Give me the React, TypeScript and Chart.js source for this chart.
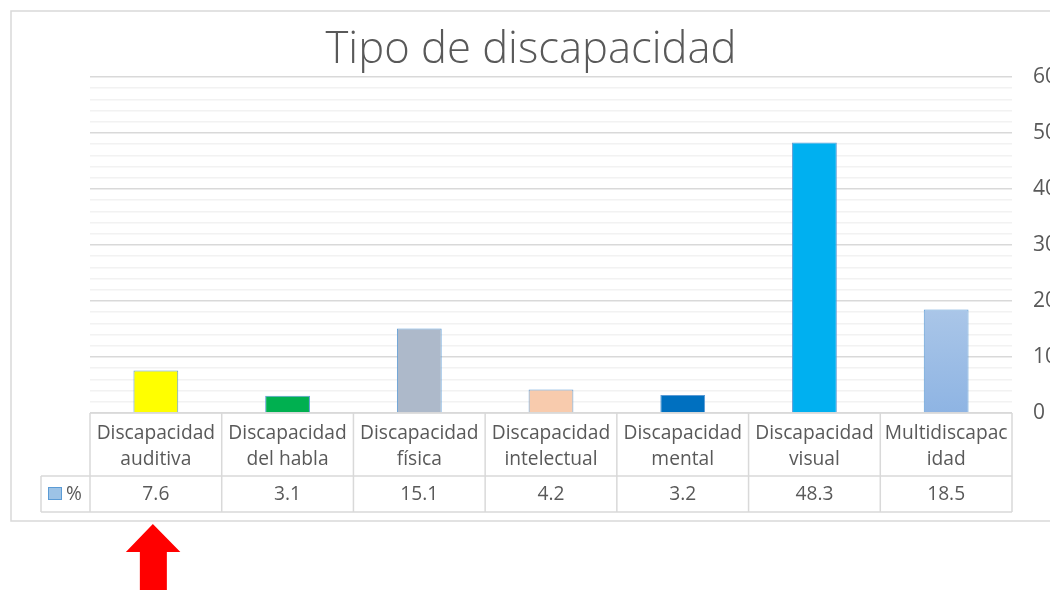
import { useEffect, useRef } from "react";
import { Chart, registerables } from "chart.js";

Chart.register(...registerables);

// ---- data ----
const chartTitle = "Tipo de discapacidad";
const seriesName = "%";
const categories: string[][] = [
  ["Discapacidad", "auditiva"],
  ["Discapacidad", "del habla"],
  ["Discapacidad", "física"],
  ["Discapacidad", "intelectual"],
  ["Discapacidad", "mental"],
  ["Discapacidad", "visual"],
  ["Multidiscapac", "idad"],
];
const values: number[] = [7.6, 3.1, 15.1, 4.2, 3.2, 48.3, 18.5];
const barColors: string[] = [
  "#FFFF00",
  "#00B050",
  "#ADB9CA",
  "#F8CBAD",
  "#0070C0",
  "#00B0F0",
  "gradient",
];
const yMin = 0;
const yMax = 60;
const yMajorStep = 10;
const yMinorStep = 2;

const FONT = "'Open Sans', 'Noto Sans', sans-serif";
const TEXT = "#595959";
const LINE = "#D9D9D9";

function drawText(
  c: CanvasRenderingContext2D,
  text: string,
  x: number,
  y: number,
  sx: number,
  align: CanvasTextAlign
) {
  c.save();
  c.translate(x, y);
  c.scale(sx, 1);
  c.textAlign = align;
  c.textBaseline = "alphabetic";
  c.fillText(text, 0, 0);
  c.restore();
}

const decoPlugin = {
  id: "deco",
  beforeDraw(chart: any) {
    const c: CanvasRenderingContext2D = chart.ctx;
    c.save();
    c.fillStyle = "#ffffff";
    c.fillRect(0, 0, chart.width, chart.height);
    c.strokeStyle = LINE;
    c.lineWidth = 1.5;
    c.strokeRect(11, 11, chart.width + 20, 510);
    c.restore();
  },
  afterDraw(chart: any) {
    const c: CanvasRenderingContext2D = chart.ctx;
    const { left, right, bottom } = chart.chartArea;
    const xs = chart.scales.x;
    const n = values.length;
    const w = (right - left) / n;
    const rowMid = bottom + 63;
    const rowBot = bottom + 99;
    const legendLeft = 41;

    c.save();
    // table lines
    c.strokeStyle = LINE;
    c.lineWidth = 1.5;
    c.beginPath();
    c.moveTo(left, bottom);
    c.lineTo(right, bottom);
    c.moveTo(legendLeft, rowMid);
    c.lineTo(right, rowMid);
    c.moveTo(legendLeft, rowBot);
    c.lineTo(right, rowBot);
    for (let i = 0; i <= n; i++) {
      const bx = i < n ? xs.getPixelForValue(i) - w / 2 : xs.getPixelForValue(n - 1) + w / 2;
      c.moveTo(bx, bottom);
      c.lineTo(bx, rowBot);
    }
    c.moveTo(legendLeft, rowMid);
    c.lineTo(legendLeft, rowBot);
    c.stroke();

    // table text
    c.fillStyle = TEXT;
    c.font = `20px ${FONT}`;
    for (let i = 0; i < n; i++) {
      const cx = xs.getPixelForValue(i);
      drawText(c, categories[i][0], cx, bottom + 26, 0.96, "center");
      drawText(c, categories[i][1], cx, bottom + 52, 0.96, "center");
      drawText(c, values[i].toFixed(1), cx, bottom + 87, 0.96, "center");
    }

    // legend key
    c.fillStyle = "#9DC3E6";
    c.fillRect(48, rowMid + 11, 14, 13);
    c.strokeStyle = "#5B9BD5";
    c.lineWidth = 1;
    c.strokeRect(48.5, rowMid + 11.5, 13, 12);
    c.fillStyle = TEXT;
    c.font = `20px ${FONT}`;
    drawText(c, seriesName, 66, bottom + 87, 0.96, "left");

    // title
    c.font = `300 44px ${FONT}`;
    c.fillStyle = TEXT;
    drawText(c, chartTitle, 531, 63, 0.99, "center");

    // red arrow
    const ax = xs.getPixelForValue(0) - 3;
    c.fillStyle = "#FF0000";
    c.beginPath();
    c.moveTo(ax, 524);
    c.lineTo(ax + 27.5, 552);
    c.lineTo(ax + 14, 552);
    c.lineTo(ax + 14, 590);
    c.lineTo(ax - 13, 590);
    c.lineTo(ax - 13, 552);
    c.lineTo(ax - 27, 552);
    c.closePath();
    c.fill();
    c.restore();
  },
};

export default function App() {
  const ref = useRef<HTMLCanvasElement | null>(null);

  useEffect(() => {
    document.body.style.margin = "0";
    if (!ref.current) return;
    const chart = new Chart(ref.current, {
      type: "bar",
      data: {
        labels: categories.map((l) => l.join(" ")),
        datasets: [
          {
            label: seriesName,
            data: values,
            backgroundColor: (ctx: any) => {
              const col = barColors[ctx.dataIndex];
              if (col !== "gradient") return col;
              const ch = ctx.chart;
              const area = ch.chartArea;
              if (!area || !ch.scales.y) return "#9DC3E6";
              const yTop = ch.scales.y.getPixelForValue(values[ctx.dataIndex]);
              const g = ch.ctx.createLinearGradient(0, yTop, 0, area.bottom);
              g.addColorStop(0, "#AAC6E8");
              g.addColorStop(1, "#8EB4E3");
              return g;
            },
            borderColor: "#5B9BD5",
            borderWidth: 1,
            barPercentage: 0.34,
            categoryPercentage: 1,
          },
        ],
      },
      options: {
        responsive: false,
        animation: false,
        layout: { padding: { left: 90, right: 0, top: 77, bottom: 177 } },
        plugins: {
          legend: { display: false },
          title: { display: false },
          tooltip: { enabled: false },
        },
        scales: {
          x: { display: false },
          y: {
            position: "right",
            min: yMin,
            max: yMax,
            afterFit: (s: any) => {
              s.width = 38;
            },
            border: { display: false },
            grid: {
              drawTicks: false,
              color: (ctx: any) =>
                ctx.tick && ctx.tick.value % yMajorStep === 0 ? "#D9D9D9" : "#F2F2F2",
              lineWidth: 1.5,
            },
            ticks: {
              stepSize: yMinorStep,
              autoSkip: false,
              padding: 21,
              color: TEXT,
              font: { family: FONT, size: 21 },
              callback: (v: any) => (Number(v) % yMajorStep === 0 ? String(v) : ""),
            },
          },
        },
      },
      plugins: [decoPlugin],
    });
    return () => chart.destroy();
  }, []);

  return (
    <div style={{ position: "absolute", left: 0, top: 0, width: 1050, height: 590 }}>
      <canvas ref={ref} width={1050} height={590} />
    </div>
  );
}
